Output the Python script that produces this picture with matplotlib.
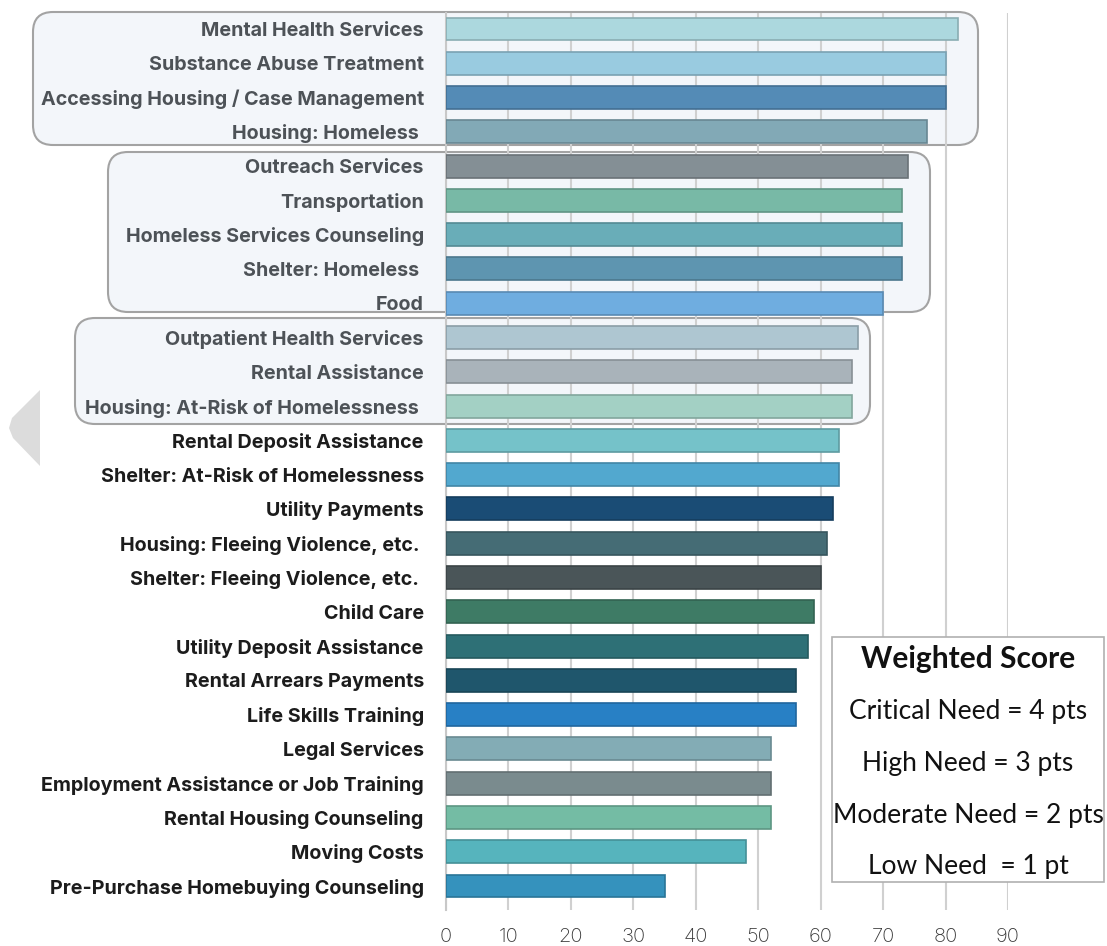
import numpy as np
import matplotlib
matplotlib.use('Agg')
import matplotlib.pyplot as plt
from matplotlib.patches import FancyBboxPatch, Polygon, Rectangle
from matplotlib.colors import to_rgb

# --- Data ---
services = [
    'Mental Health Services', 'Substance Abuse Treatment',
    'Accessing Housing / Case Management', 'Housing: Homeless ',
    'Outreach Services', 'Transportation', 'Homeless Services Counseling',
    'Shelter: Homeless ', 'Food', 'Outpatient Health Services',
    'Rental Assistance', 'Housing: At-Risk of Homelessness ',
    'Rental Deposit Assistance', 'Shelter: At-Risk of Homelessness',
    'Utility Payments', 'Housing: Fleeing Violence, etc. ',
    'Shelter: Fleeing Violence, etc. ', 'Child Care',
    'Utility Deposit Assistance', 'Rental Arrears Payments',
    'Life Skills Training', 'Legal Services',
    'Employment Assistance or Job Training', 'Rental Housing Counseling',
    'Moving Costs', 'Pre-Purchase Homebuying Counseling',
]
scores = [82, 80, 80, 77, 74, 73, 73, 73, 70, 66, 65, 65, 63, 63, 62, 61,
          60, 59, 58, 56, 56, 52, 52, 52, 48, 35]
bar_colors = ['#acd8de', '#99cbe0', '#548bb6', '#82a9b6', '#848f95', '#78b9a6',
              '#69adb8', '#5e95b0', '#6fade0', '#aec6d1', '#a9b3ba', '#a3d0c4',
              '#75c2c9', '#52a8cf', '#1a4c75', '#456c75', '#4a5558', '#3e7b65',
              '#2e7076', '#1f566c', '#2880c5', '#83acb5', '#7a8b8e', '#74bca4',
              '#56b4bd', '#3592bd']
n_grouped = 12  # first 12 rows sit inside the highlighted groups
x_ticks = [0, 10, 20, 30, 40, 50, 60, 70, 80, 90]
legend_title = 'Weighted Score'
legend_lines = ['Critical Need = 4 pts', 'High Need = 3 pts',
                'Moderate Need = 2 pts', 'Low Need  = 1 pt']

W, H = 1107, 946
fig = plt.figure(figsize=(W / 100, H / 100), dpi=100)


def fx(px):
    return px / W


def fy(py):
    return 1 - py / H


# axes placed in pixel terms
ax = fig.add_axes([fx(446), fy(910), fx(1008) - fx(446), fy(13) - fy(910)])
ax.set_facecolor('none')

# --- group highlight boxes (behind the axes) ---
for (x0, y0, x1, y1) in [(33, 12, 978, 145), (108, 152, 930, 312), (75, 318, 870, 424)]:
    box = FancyBboxPatch((fx(x0 + 16), fy(y1 - 16)), fx(x1 - x0 - 32), fy(y0 + 16) - fy(y1 - 16),
                         boxstyle='round,pad=0,rounding_size=0.018',
                         transform=fig.transFigure, facecolor='#f3f6fa',
                         edgecolor='#a3a3a3', linewidth=1.5, zorder=-5,
                         mutation_aspect=W / H)
    box.set_boxstyle('round', pad=16 / W, rounding_size=20 / W)
    fig.patches.append(box)

# grey arrow on the left edge
arrow = Polygon([(fx(40), fy(390)), (fx(40), fy(466)), (fx(13), fy(438)),
                 (fx(9), fy(428)), (fx(12), fy(418))],
                closed=True, transform=fig.transFigure, facecolor='#dcdcdc',
                edgecolor='none', zorder=-5)
fig.patches.append(arrow)

y = np.arange(len(services))
edges = [tuple(np.array(to_rgb(c)) * 0.8) for c in bar_colors]
ax.barh(y, scores, height=0.67, color=bar_colors, edgecolor=edges, linewidth=1.2, zorder=3)

ax.set_xlim(0, 90)
ax.set_ylim(25.7, -0.467)
ax.set_xticks(x_ticks)
ax.set_yticks(y)
ax.set_yticklabels(services)
ax.grid(axis='x', color='#d0d0d0', linewidth=1.5, zorder=0)
ax.set_axisbelow(True)
for s in ['top', 'right', 'bottom']:
    ax.spines[s].set_visible(False)
ax.spines['left'].set_color('#c8c8c8')
ax.spines['left'].set_linewidth(1.5)

ax.tick_params(axis='y', length=0, pad=16)
ax.tick_params(axis='x', length=0, pad=13)
for i, lab in enumerate(ax.get_yticklabels()):
    lab.set_fontfamily('Inter')
    lab.set_fontweight('bold')
    lab.set_fontsize(14.2)
    lab.set_color('#4d5257' if i < n_grouped else '#1c1c1c')
for lab in ax.get_xticklabels():
    lab.set_fontfamily('Inter')
    lab.set_fontweight('light')
    lab.set_fontsize(14.5)
    lab.set_color('#3a3a3a')

# --- legend box ---
fig.patches.append(Rectangle((fx(832), fy(882)), fx(1104 - 832), fy(637) - fy(882),
                             transform=fig.transFigure, facecolor='white',
                             edgecolor='#b0b0b0', linewidth=1.2, zorder=5))
cx = fx(968)
fig.text(cx, fy(659), legend_title, ha='center', va='center', fontsize=21.5,
         fontweight='bold', family='Lato', color='#111111', zorder=6)
for k, line in enumerate(legend_lines):
    fig.text(cx, fy(712 + 51.5 * k), line, ha='center', va='center', fontsize=19,
             family='Lato', color='#111111', zorder=6)

plt.savefig('out.png', dpi=100)
plt.close()
